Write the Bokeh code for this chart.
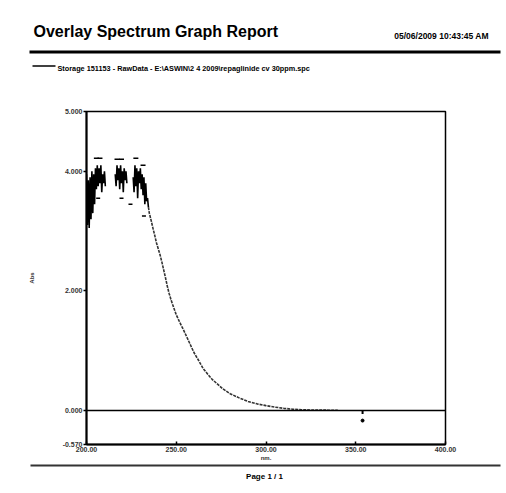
import numpy as np
from bokeh.plotting import figure
from bokeh.layouts import column, row
from bokeh.core.properties import value
from bokeh.models import Range1d, FixedTicker, NumeralTickFormatter, Span
from bokeh.embed import file_html
from bokeh.resources import INLINE

# ---- data ----
noisy_nm = [200.0, 200.5, 201.0, 201.5, 202.0, 202.5, 203.0, 203.5, 204.0, 204.5,
            205.0, 205.5, 206.0, 206.5, 207.0, 207.5, 208.0, 208.5, 209.0, 209.5,
            210.0, 210.5, 211.0,
            216.0, 216.5, 217.0, 217.5, 218.0, 218.5, 219.0, 219.5, 220.0, 220.5,
            221.0, 221.5, 222.0, 222.5, 223.0,
            226.0, 226.5, 227.0, 227.5, 228.0, 228.5, 229.0, 229.5, 230.0, 230.5,
            231.0, 231.5, 232.0, 232.5, 233.0, 233.5, 234.0, 234.5]
noisy_abs = [3.95, 3.10, 3.85, 3.05, 3.90, 3.20, 4.00, 3.30, 3.95, 3.45,
             4.05, 3.70, 4.10, 3.75, 4.05, 3.80, 4.10, 3.65, 3.95, 3.80,
             4.00, 3.75, float("nan"),
             3.95, 3.75, 4.10, 3.85, 4.05, 3.70, 4.10, 3.80, 4.00, 3.65,
             4.05, 3.85, 4.00, 3.80, float("nan"),
             3.90, 3.65, 4.10, 3.75, 4.05, 3.55, 4.00, 3.80, 4.05, 3.70,
             3.95, 3.60, 3.90, 3.45, 3.80, 3.50, 3.55, 3.40]

decay_nm = [234.5, 235, 236, 237, 238, 239, 240, 241, 242, 243, 244, 245, 246, 247, 248,
            250, 252, 254, 256, 258, 260, 262, 265, 268, 270, 273, 276, 280, 285, 290,
            295, 300, 305, 310, 315, 320, 325, 330, 335, 340]
decay_abs = [3.40, 3.30, 3.18, 3.05, 2.93, 2.80, 2.70, 2.60, 2.48, 2.35, 2.22, 2.08, 1.96, 1.86, 1.77,
             1.60, 1.47, 1.35, 1.22, 1.09, 0.96, 0.86, 0.70, 0.59, 0.52, 0.44, 0.36, 0.28, 0.21, 0.15,
             0.11, 0.08, 0.055, 0.035, 0.02, 0.012, 0.008, 0.006, 0.004, 0.003]

peak_nm = [205.5, 207.5, 217.0, 219.5, 227.5, 231.5]
peak_abs = [4.22, 4.22, 4.20, 4.20, 4.22, 4.10]
valley_nm = [206.5, 219.5, 224.5, 232.0]
valley_abs = [3.55, 3.55, 3.45, 3.25]

glitch_nm = [353.8, 353.8]
glitch_abs = [0.0, -0.06]
glitch_pt_nm = [353.8]
glitch_pt_abs = [-0.17]

x_ticks = [200, 250, 300, 350, 400]
y_ticks = [-0.57, 0.0, 2.0, 4.0, 5.0]

title_text = "Overlay Spectrum Graph Report"
date_text = "05/06/2009   10:43:45 AM"
legend_text = "Storage 151153 - RawData - E:\\ASWIN\\2 4 2009\\repaglinide  cv 30ppm.spc"
page_text = "Page 1 / 1"

FONT = "Liberation Sans"
W = 506
HEAD_H, MAIN_H, FOOT_H = 80, 383, 30


def blank(height):
    f = figure(width=W, height=height, output_backend="svg", toolbar_location=None,
               x_range=Range1d(0, W), y_range=Range1d(height, 0),
               min_border=0, outline_line_color=None)
    f.axis.visible = False
    f.grid.visible = False
    f.background_fill_color = "white"
    f.border_fill_color = "white"
    return f


# ---- header ----
head = blank(HEAD_H)
head.text(x=[33], y=[31], text=[title_text], text_font=value(FONT), text_font_style="bold",
          text_font_size="16px", text_baseline="alphabetic", text_color="black")
head.text(x=[493], y=[35], text=[date_text], text_font=value(FONT), text_font_style="bold",
          text_font_size="8.5px", text_align="right", text_baseline="alphabetic", text_color="black")
head.segment(x0=[29], y0=[51.5], x1=[500], y1=[51.5], line_color="black", line_width=3)
head.segment(x0=[32], y0=[65.5], x1=[55], y1=[65.5], line_color="black", line_width=1.3)
head.text(x=[57], y=[68], text=[legend_text], text_font=value(FONT), text_font_style="bold",
          text_font_size="7.3px", text_baseline="alphabetic", text_color="black")

# ---- main plot ----
p = figure(width=W, height=MAIN_H, output_backend="svg", toolbar_location=None,
           x_range=Range1d(200, 400), y_range=Range1d(-0.57, 5.0),
           min_border_left=86, min_border_right=61, min_border_top=31, min_border_bottom=19)
p.grid.visible = False
p.outline_line_color = "black"
p.outline_line_width = 1.5
p.background_fill_color = "white"
p.border_fill_color = "white"

p.xaxis.ticker = FixedTicker(ticks=x_ticks)
p.yaxis.ticker = FixedTicker(ticks=y_ticks)
p.xaxis.formatter = NumeralTickFormatter(format="0.00")
p.yaxis.formatter = NumeralTickFormatter(format="0.000")
for ax in (p.xaxis[0], p.yaxis[0]):
    ax.axis_line_width = 2
    ax.axis_line_color = "black"
    ax.major_tick_line_color = "black"
    ax.major_tick_line_width = 1.5
    ax.minor_tick_line_color = None
    ax.major_label_text_font = FONT
    ax.major_label_text_font_style = "bold"
    ax.major_label_text_font_size = "7px"
    ax.major_label_text_color = "#333"
    ax.axis_label_text_font = FONT
    ax.axis_label_text_font_style = "bold"
    ax.axis_label_text_font_size = "6px"
    ax.axis_label_text_color = "#333"
p.xaxis.major_tick_in = 3
p.xaxis.major_tick_out = 0
p.xaxis.major_label_standoff = 2
p.xaxis.axis_label = "nm."
p.xaxis.axis_label_standoff = 0
p.yaxis.major_tick_in = 0
p.yaxis.major_tick_out = 3
p.yaxis.major_label_standoff = 1
p.yaxis.axis_label = "Abs"
p.yaxis.axis_label_standoff = 25

p.add_layout(Span(location=0, dimension="width", line_color="black", line_width=1.5))

p.line(noisy_nm, noisy_abs, line_color="black", line_width=1.6)
p.line(decay_nm, decay_abs, line_color="#333", line_width=1.6, line_dash="3 1")
p.scatter(peak_nm, peak_abs, marker="dash", size=5, line_color="black", line_width=1.5)
p.scatter(valley_nm, valley_abs, marker="dash", size=4, line_color="black", line_width=1.5)
p.line(glitch_nm, glitch_abs, line_color="black", line_width=2)
p.scatter(glitch_pt_nm, glitch_pt_abs, marker="circle", size=3, fill_color="black", line_color="black")

# ---- footer ----
foot = blank(FOOT_H)
foot.segment(x0=[30], y0=[2], x1=[500], y1=[2], line_color="#333", line_width=2)
foot.text(x=[264], y=[13], text=[page_text], text_font=value(FONT), text_font_style="bold",
          text_font_size="8px", text_align="center", text_baseline="alphabetic", text_color="black")

layout = column(row(head, spacing=0), row(p, spacing=0), row(foot, spacing=0), spacing=0)
open("out.html", "w").write(file_html(layout, INLINE))
